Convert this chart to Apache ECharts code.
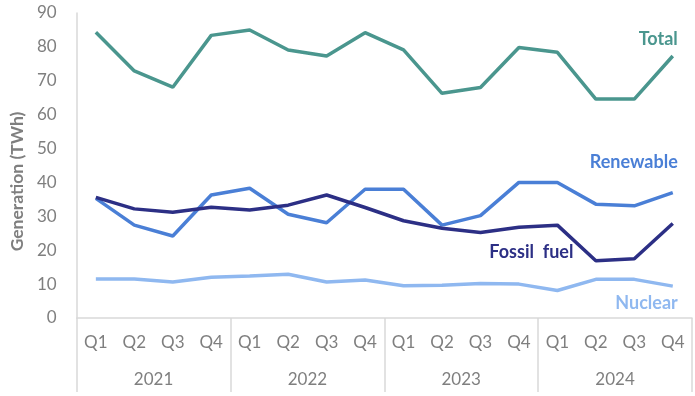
<!DOCTYPE html>
<html>
<head>
<meta charset="utf-8">
<script src="https://cdn.jsdelivr.net/npm/echarts@6/dist/echarts.min.js"></script>
<style>
  html, body { margin: 0; padding: 0; background: #fff; }
  #chart { width: 695px; height: 396px; }
</style>
</head>
<body>
<div id="chart"></div>
<script>
// quarters and years on the two-level x axis
var quarters = ['Q1', 'Q2', 'Q3', 'Q4', 'Q1', 'Q2', 'Q3', 'Q4', 'Q1', 'Q2', 'Q3', 'Q4', 'Q1', 'Q2', 'Q3', 'Q4'];
var years = ['2021', '2022', '2023', '2024'];

// generation, TWh
var total = [84.3, 72.9, 68.1, 83.4, 85.0, 79.1, 77.3, 84.2, 79.1, 66.3, 68.0, 79.8, 78.4, 64.6, 64.6, 77.3];
var renewable = [35.3, 27.4, 24.2, 36.3, 38.3, 30.6, 28.1, 38.0, 38.0, 27.4, 30.2, 40.0, 40.0, 33.6, 33.1, 37.0];
var fossil = [35.6, 32.2, 31.2, 32.7, 31.9, 33.3, 36.3, 32.6, 28.7, 26.5, 25.2, 26.8, 27.4, 16.9, 17.5, 27.9];
var nuclear = [11.5, 11.5, 10.6, 12.0, 12.4, 12.9, 10.6, 11.2, 9.5, 9.7, 10.2, 10.0, 8.1, 11.4, 11.4, 9.4];

var yTicks = [0, 10, 20, 30, 40, 50, 60, 70, 80, 90];

var FONT = 'Lato';
var GREY = '#7f7f7f';
var AXIS = '#d9d9d9';

// put a name label on one point of a series
function labelled(values, idx, text, color, align, offset) {
    return values.map(function (v, i) {
        if (i !== idx) return v;
        return {
            value: v,
            label: {
                show: true,
                formatter: text,
                position: 'inside',
                align: align,
                verticalAlign: 'middle',
                offset: offset,
                color: color,
                fontFamily: FONT,
                fontWeight: 'bold',
                fontSize: 18
            }
        };
    });
}

function line(name, data, color) {
    return {
        name: name,
        type: 'line',
        data: data,
        showSymbol: true,
        symbolSize: 0,
        lineStyle: { width: 3.5, color: color },
        itemStyle: { color: color },
        label: { show: false },
        emphasis: { disabled: true },
        silent: true,
        animation: false
    };
}

var myChart = echarts.init(document.getElementById('chart'));

var option = {
    animation: false,
    grid: { left: 69, right: 3, top: 13, bottom: 78 },
    xAxis: [{
        type: 'category',
        data: quarters,
        boundaryGap: true,
        axisLine: { lineStyle: { color: AXIS, width: 1.5 } },
        axisTick: { show: false },
        axisLabel: { color: GREY, fontFamily: FONT, fontSize: 17, margin: 16 },
        splitLine: { show: false }
    }, {
        type: 'category',
        data: years,
        position: 'bottom',
        boundaryGap: true,
        axisLine: { show: false },
        axisTick: { show: true, length: 74, lineStyle: { color: AXIS, width: 1.5 } },
        axisLabel: { color: GREY, fontFamily: FONT, fontSize: 17, margin: 53 },
        splitLine: { show: false }
    }],
    yAxis: {
        type: 'value',
        min: yTicks[0],
        max: yTicks[yTicks.length - 1],
        interval: 10,
        name: 'Generation (TWh)',
        nameLocation: 'middle',
        nameGap: 46,
        nameTextStyle: { color: GREY, fontFamily: FONT, fontSize: 17.5, fontWeight: 'bold', padding: [0, 32, 0, 0] },
        axisLine: { show: true, lineStyle: { color: AXIS, width: 1.5 } },
        axisTick: { show: false },
        axisLabel: { color: GREY, fontFamily: FONT, fontSize: 17, margin: 20 },
        splitLine: { show: false }
    },
    series: [
        line('Nuclear', labelled(nuclear, 15, 'Nuclear', '#8fb8f0', 'right', [5, 17]), '#8fb8f0'),
        line('Renewable', labelled(renewable, 15, 'Renewable', '#4a7fd6', 'right', [5, -30]), '#4a7fd6'),
        line('Fossil fuel', labelled(fossil, 12, 'Fossil  fuel', '#2c2f85', 'center', [-26, 27]), '#2c2f85'),
        line('Total', labelled(total, 15, 'Total', '#4a968e', 'right', [5, -17]), '#4a968e')
    ]
};

myChart.setOption(option);
</script>
</body>
</html>
